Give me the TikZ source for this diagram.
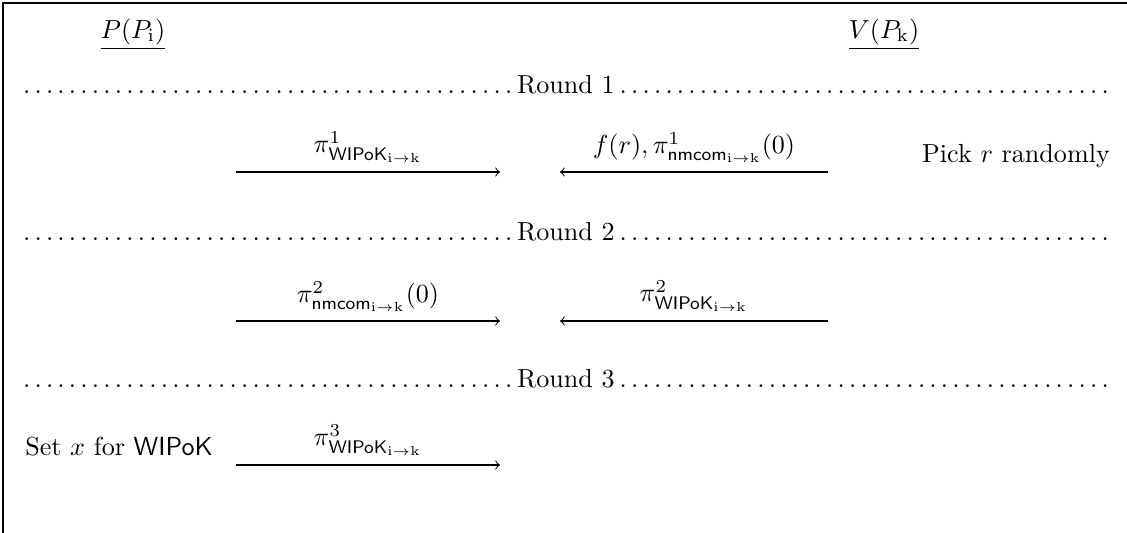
\documentclass[tikz,border=0pt]{standalone}
\usepackage{amsmath, amssymb}
\usetikzlibrary{calc}

\tikzset{
  msg/.style={->, thin},
  lbl/.style={above, midway},
  party/.style={anchor=base},
}
\newcommand{\wipok}{\mathsf{WIPoK}_{\mathrm{i}\to\mathrm{k}}}
\newcommand{\nmcom}{\mathsf{nmcom}_{\mathrm{i}\to\mathrm{k}}}

\begin{document}
\begin{tikzpicture}[x=0.01347cm,y=-0.01347cm]
  \useasboundingbox (0,0) rectangle (1127,533);
  % Frame
  \draw[line width=0.6pt] (1127,3) -- (3,3) -- (3,533);

  % Parties
  \node[party] (prover) at (133,38) {\underline{$P(P_{\mathrm{i}})$}};
  \node[party] (verifier) at (884,38) {\underline{$V(P_{\mathrm{k}})$}};

  % Round separators
  \foreach \r/\y in {1/93, 2/240, 3/387}
    \node[party, inner sep=0pt] (round\r) at (566,\y) {\makebox[420pt]{\dotfill Round \r\dotfill}};

  % Round 1
  \coordinate (a1s) at (236,172); \coordinate (a1e) at (500,172);
  \coordinate (b1s) at (828,172); \coordinate (b1e) at (560,172);
  \draw[msg] (a1s) -- (a1e) node[lbl] {$\pi^1_{\wipok}$};
  \draw[msg] (b1s) -- (b1e) node[lbl] {$f(r), \pi^1_{\nmcom}(0)$};
  \node[party] (pick) at (1016,162) {Pick $r$ randomly};

  % Round 2
  \coordinate (a2s) at (236,321); \coordinate (a2e) at (500,321);
  \coordinate (b2s) at (828,321); \coordinate (b2e) at (560,321);
  \draw[msg] (a2s) -- (a2e) node[lbl] {$\pi^2_{\nmcom}(0)$};
  \draw[msg] (b2s) -- (b2e) node[lbl] {$\pi^2_{\wipok}$};

  % Round 3
  \coordinate (a3s) at (236,465); \coordinate (a3e) at (500,465);
  \draw[msg] (a3s) -- (a3e) node[lbl] {$\pi^3_{\wipok}$};
  \node[party] (setx) at (119,455) {Set $x$ for \textsf{WIPoK}};
\end{tikzpicture}
\end{document}
